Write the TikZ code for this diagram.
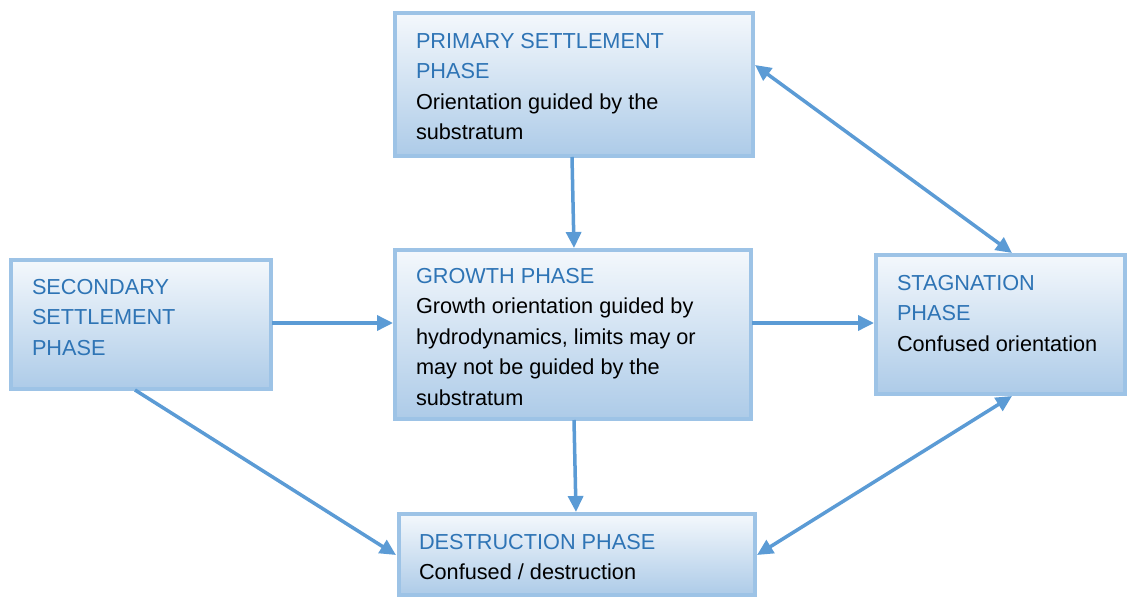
\documentclass[tikz,border=0pt]{standalone}
\usepackage{fontspec}
\setmainfont{Liberation Sans}
\usetikzlibrary{arrows.meta,calc}
\definecolor{boxline}{HTML}{9DC3E6}
\definecolor{boxtop}{HTML}{F4F8FC}
\definecolor{boxbot}{HTML}{ADCBE8}
\definecolor{titleblue}{HTML}{2E74B5}
\definecolor{arrowblue}{HTML}{5B9BD5}
\newcommand{\phasetitle}[1]{\textcolor{titleblue}{#1}}
\begin{document}
\begin{tikzpicture}[x=1pt,y=-1pt,
  phasebox/.style={draw=boxline, line width=3.5pt, top color=boxtop, bottom color=boxbot,
    rectangle, anchor=north west, inner sep=0pt, outer sep=0pt},
  phasetext/.style={anchor=north west, inner sep=0pt, outer sep=0pt, align=left,
    font=\fontsize{21.7}{30.5}\selectfont, text=black},
  arr/.style={draw=arrowblue, line width=3.5pt, -{Triangle[length=16pt,width=15pt]}},
  darr/.style={draw=arrowblue, line width=3.5pt, {Triangle[length=16pt,width=15pt]}-{Triangle[length=16pt,width=15pt]}}]
\useasboundingbox (0,0) rectangle (1128,599);
% boxes
\node[phasebox, minimum width=358pt, minimum height=143pt] (primary) at (395,13) {};
\node[phasebox, minimum width=260pt, minimum height=129pt] (secondary) at (11,260) {};
\node[phasebox, minimum width=356pt, minimum height=169pt] (growth) at (395,250) {};
\node[phasebox, minimum width=249pt, minimum height=139pt] (stagnation) at (876,255) {};
\node[phasebox, minimum width=356pt, minimum height=81pt] (destruction) at (399,514) {};
% texts
\node[phasetext] (primaryT) at (416,26.7) {\strut\phasetitle{PRIMARY SETTLEMENT}\\\phasetitle{PHASE}\\Orientation guided by the\\substratum};
\node[phasetext] (secondaryT) at (32,272.7) {\strut\phasetitle{SECONDARY}\\\phasetitle{SETTLEMENT}\\\phasetitle{PHASE}};
\node[phasetext] (growthT) at (416,261.7) {\strut\phasetitle{GROWTH PHASE}\\Growth orientation guided by\\hydrodynamics, limits may or\\may not be guided by the\\substratum};
\node[phasetext] (stagnationT) at (897,268.7) {\strut\phasetitle{STAGNATION}\\\phasetitle{PHASE}\\Confused orientation};
\node[phasetext] (destructionT) at (419,527.7) {\strut\phasetitle{DESTRUCTION PHASE}\\Confused / destruction};
% arrows
\draw[arr] ($(primary.south west)+(177,1)$) -- ($(growth.north west)+(179,-2)$);
\draw[arr] ($(secondary.north east)+(1,63)$) -- ($(growth.north west)+(-2,73)$);
\draw[arr] ($(growth.north east)+(1,73)$) -- ($(stagnation.north west)+(-2,68)$);
\draw[arr] ($(growth.south west)+(179,1)$) -- ($(destruction.north west)+(177,-2)$);
\draw[arr] ($(secondary.south west)+(124,1)$) -- ($(destruction.north west)+(-3,41)$);
\draw[darr] ($(primary.north east)+(2,52)$) -- ($(stagnation.north west)+(136,-2)$);
\draw[darr] ($(stagnation.south west)+(136,2)$) -- ($(destruction.north east)+(2,41)$);
\end{tikzpicture}
\end{document}
